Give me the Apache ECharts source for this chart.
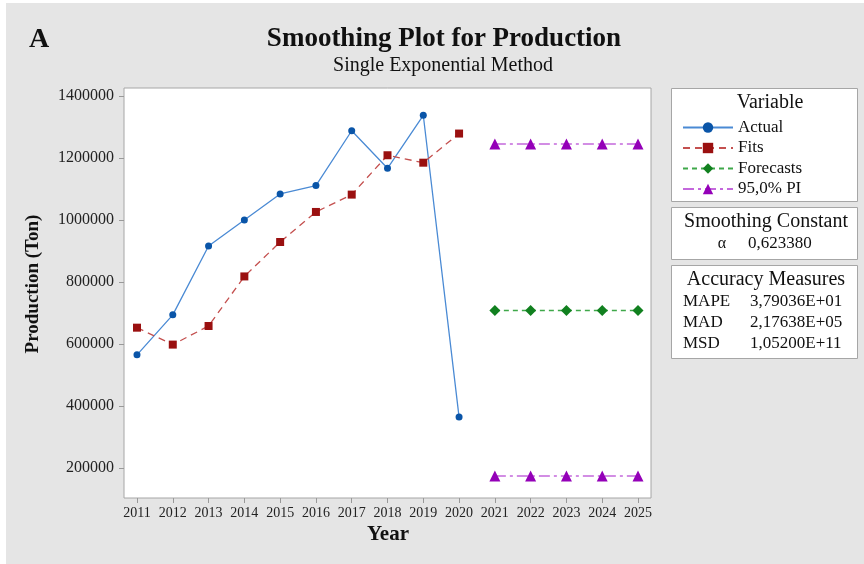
<!DOCTYPE html>
<html>
<head>
<meta charset="utf-8">
<script src="https://cdn.jsdelivr.net/npm/echarts@6/dist/echarts.min.js"></script>
<style>
  html, body { margin: 0; padding: 0; background: #fff; }
  #chart { width: 864px; height: 564px; }
</style>
</head>
<body>
<div id="chart"></div>
<script>
// data
const years = [2011, 2012, 2013, 2014, 2015, 2016, 2017, 2018, 2019, 2020]
const forecastYears = [2021, 2022, 2023, 2024, 2025]
const actual = [565000, 694000, 916000, 1000000, 1084000, 1111000, 1288000, 1167000, 1338000, 364000]
const fits = [652600, 598000, 658000, 818000, 929000, 1026000, 1082000, 1209000, 1185000, 1279000]
const forecasts = [708000, 708000, 708000, 708000, 708000]
const upperPI = [1245000, 1245000, 1245000, 1245000, 1245000]
const lowerPI = [174000, 174000, 174000, 174000, 174000]
const yTicks = [200000, 400000, 600000, 800000, 1000000, 1200000, 1400000]
const xTicks = [2011, 2012, 2013, 2014, 2015, 2016, 2017, 2018, 2019, 2020, 2021, 2022, 2023, 2024, 2025]

const serif = 'Liberation Serif'
const pair = (xs, ys) => xs.map((x, i) => [x, ys[i]])

const chart = echarts.init(document.getElementById('chart'))

// 灰色面板 + 右侧说明框
const boxStyle = { fill: '#fff', stroke: '#a6a6a6', lineWidth: 1 }
const txt = (x, y, text, size, align, weight) => ({
  type: 'text', x: x, y: y, z: 5,
  style: { text: text, font: (weight || 'normal') + ' ' + size + 'px "' + serif + '"', fill: '#111', textAlign: align || 'left', textVerticalAlign: 'middle' }
})

const option = {
  backgroundColor: '#fff',
  animation: false,
  title: [
    { text: 'Smoothing Plot for Production', left: 439, top: 21, textAlign: 'center',
      textStyle: { fontFamily: serif, fontSize: 27, fontWeight: 'bold', color: '#111' } },
    { text: 'Single Exponential Method', left: 438, top: 51, textAlign: 'center',
      textStyle: { fontFamily: serif, fontSize: 20, fontWeight: 'normal', color: '#111' } },
    { text: 'A', left: 24, top: 21,
      textStyle: { fontFamily: serif, fontSize: 28, fontWeight: 'bold', color: '#111' } }
  ],
  graphic: [
    { type: 'rect', z: -10, shape: { x: 6, y: 3, width: 858, height: 561 }, style: { fill: '#e5e5e5' } },
    { type: 'rect', z: 1, shape: { x: 671.5, y: 88.5, width: 186, height: 113 }, style: boxStyle },
    { type: 'rect', z: 1, shape: { x: 671.5, y: 207.5, width: 186, height: 52 }, style: boxStyle },
    { type: 'rect', z: 1, shape: { x: 671.5, y: 265.5, width: 186, height: 93 }, style: boxStyle },
    txt(770, 103, 'Variable', 20, 'center'),
    txt(766, 222, 'Smoothing Constant', 20, 'center'),
    txt(722, 244, 'α', 16, 'center'),
    txt(748, 244, '0,623380', 17),
    txt(766, 280, 'Accuracy Measures', 20, 'center'),
    txt(683, 302, 'MAPE', 17), txt(750, 302, '3,79036E+01', 17),
    txt(683, 323, 'MAD', 17), txt(750, 323, '2,17638E+05', 17),
    txt(683, 344, 'MSD', 17), txt(750, 344, '1,05200E+11', 17),
    { type: 'text', x: 33, y: 284, rotation: Math.PI / 2, z: 5,
      style: { text: 'Production (Ton)', font: 'bold 19px "' + serif + '"', fill: '#111', textAlign: 'center', textVerticalAlign: 'middle' } },
    txt(388, 535, 'Year', 21, 'center', 'bold')
  ],
  legend: {
    orient: 'vertical',
    left: 677, top: 114,
    itemWidth: 50, itemHeight: 13, itemGap: 3.5,
    textStyle: { fontFamily: serif, fontSize: 17, lineHeight: 17, color: '#111' },
    data: ['Actual', 'Fits', 'Forecasts', '95,0% PI']
  },
  grid: {
    left: 124, top: 88, width: 527, height: 410,
    show: true, backgroundColor: '#fff', borderColor: '#a6a6a6', borderWidth: 1
  },
  xAxis: {
    type: 'value', min: 2010.637, max: 2025.363,
    splitLine: { show: false },
    axisLine: { show: false },
    axisTick: { show: true, length: 5, lineStyle: { color: '#999' }, customValues: xTicks },
    axisLabel: { customValues: xTicks, fontFamily: serif, fontSize: 14, color: '#222', margin: 8, formatter: v => String(v) }
  },
  yAxis: {
    type: 'value', min: 103000, max: 1426000,
    splitLine: { show: false },
    axisLine: { show: false },
    axisTick: { show: true, length: 5, lineStyle: { color: '#999' }, customValues: yTicks },
    axisLabel: { customValues: yTicks, fontFamily: serif, fontSize: 16, color: '#222', margin: 10, formatter: v => String(v) }
  },
  series: [
    {
      name: 'Actual', type: 'line', data: pair(years, actual),
      symbol: 'circle', symbolSize: 7,
      lineStyle: { color: '#4a8ad4', width: 1.3 },
      itemStyle: { color: '#0a55a8' }
    },
    {
      name: 'Fits', type: 'line', data: pair(years, fits),
      symbol: 'rect', symbolSize: 8,
      lineStyle: { color: '#c4504f', width: 1.3, type: [7, 5] },
      itemStyle: { color: '#9a1010' }
    },
    {
      name: 'Forecasts', type: 'line', data: pair(forecastYears, forecasts),
      symbol: 'diamond', symbolSize: 11,
      lineStyle: { color: '#3fa84a', width: 1.3, type: [5, 4] },
      itemStyle: { color: '#11801f' }
    },
    {
      name: '95,0% PI', type: 'line', data: pair(forecastYears, upperPI),
      symbol: 'triangle', symbolSize: 11,
      lineStyle: { color: '#c468dc', width: 1.5, type: [11, 4, 3, 4] },
      itemStyle: { color: '#9400b8' }
    },
    {
      name: '95,0% PI', type: 'line', data: pair(forecastYears, lowerPI),
      symbol: 'triangle', symbolSize: 11,
      lineStyle: { color: '#c468dc', width: 1.5, type: [11, 4, 3, 4] },
      itemStyle: { color: '#9400b8' }
    }
  ]
}

chart.setOption(option)
</script>
</body>
</html>
